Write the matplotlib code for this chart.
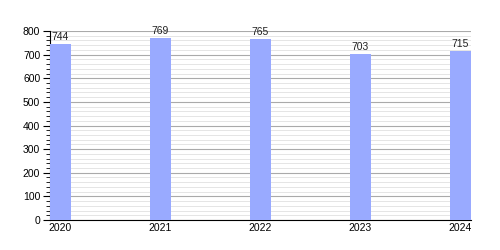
import matplotlib
matplotlib.use("Agg")
import matplotlib.pyplot as plt
from matplotlib.ticker import MultipleLocator

years = ["2020", "2021", "2022", "2023", "2024"]
values = [744, 769, 765, 703, 715]

plt.rcParams['font.family'] = ['Liberation Sans', 'DejaVu Sans']

fig = plt.figure(figsize=(5, 2.5), dpi=100)
ax = fig.add_axes([0.1, 0.12, 0.842, 0.756])

x = list(range(len(years)))
bw = 0.21
ax.bar(x, values, width=bw, color="#99aaff", zorder=3)
for xi, v in zip(x, values):
    ax.text(xi, v + 8, str(v), ha="center", va="bottom", fontsize=7.5, color="#222222", zorder=4)

ax.set_xlim(-bw / 2, len(years) - 1 + bw / 2)
ax.set_ylim(0, 800)
ax.set_xticks(x)
ax.set_xticklabels(years)
ax.yaxis.set_major_locator(MultipleLocator(100))
ax.yaxis.set_minor_locator(MultipleLocator(20))
ax.grid(axis="y", which="major", color="#aaaaaa", linewidth=0.8, zorder=0)
ax.grid(axis="y", which="minor", color="#e0e0e0", linewidth=0.6, zorder=0)
ax.tick_params(axis="y", which="major", length=5, width=0.8, labelsize=7.5, pad=2)
ax.tick_params(axis="y", which="minor", length=3, width=0.6)
ax.tick_params(axis="x", length=0, labelsize=7.5, pad=2)
for s in ["top", "right"]:
    ax.spines[s].set_visible(False)
ax.spines["left"].set_linewidth(0.8)
ax.spines["bottom"].set_linewidth(0.8)

fig.savefig("out.png", dpi=100)
